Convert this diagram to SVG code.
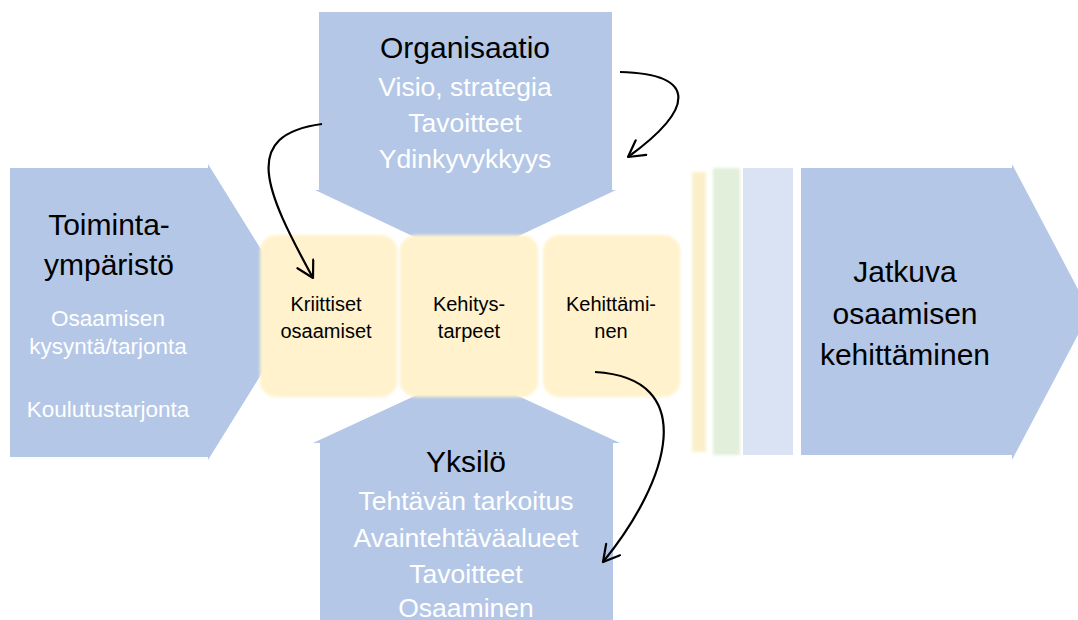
<svg xmlns="http://www.w3.org/2000/svg" width="1078" height="620" viewBox="0 0 1078 620">
<style>
.blue{fill:#b4c7e7}
.yel{fill:#fff2cc}
.h{font-family:"Liberation Sans",Arial,sans-serif;font-size:30px;fill:#000;text-anchor:middle}
.b{font-family:"Liberation Sans",Arial,sans-serif;font-size:26.5px;fill:#fff;text-anchor:middle}
.s{font-family:"Liberation Sans",Arial,sans-serif;font-size:22.5px;fill:#fff;text-anchor:middle}
.y{font-family:"Liberation Sans",Arial,sans-serif;font-size:20px;fill:#000;text-anchor:middle}
.con{fill:none;stroke:#000;stroke-width:2.2;marker-end:url(#ah)}
</style>
<defs>
<filter id="soft" x="-10%" y="-10%" width="120%" height="120%"><feGaussianBlur stdDeviation="1.6"/></filter>
<marker id="ah" viewBox="0 0 20 20" refX="18" refY="10" markerWidth="20" markerHeight="20" markerUnits="userSpaceOnUse" orient="auto">
<path d="M2,1 L18,10 L2,19" fill="none" stroke="#000" stroke-width="2.2" stroke-linejoin="round" stroke-linecap="round"/>
</marker>
</defs>
<rect width="1078" height="620" fill="#fff"/>
<g id="organisaatio">
<polygon class="blue" points="319,12 612,12 612,190 616,190 465.5,261 315,190 319,190"/>
<text class="h" x="465" y="58">Organisaatio</text>
<text class="b" x="465" y="96">Visio, strategia</text>
<text class="b" x="465" y="132">Tavoitteet</text>
<text class="b" x="465" y="168">Ydinkyvykkyys</text>
</g>
<g id="toimintaymparisto">
<polygon class="blue" points="10,168 208,168 208,164 300,312 208,460 208,457 10,457"/>
<text class="h" x="109" y="235">Toiminta-</text>
<text class="h" x="109" y="275">ympäristö</text>
<text class="s" x="108" y="326">Osaamisen</text>
<text class="s" x="108" y="354">kysyntä/tarjonta</text>
<text class="s" x="108" y="417">Koulutustarjonta</text>
</g>
<g id="yksilo">
<polygon class="blue" points="466.5,372 620,443 613,443 613,620 320,620 320,443 313,443"/>
<text class="h" x="466" y="472">Yksilö</text>
<text class="b" x="466" y="510">Tehtävän tarkoitus</text>
<text class="b" x="466" y="547">Avaintehtäväalueet</text>
<text class="b" x="466" y="583">Tavoitteet</text>
<text class="b" x="466" y="617">Osaaminen</text>
</g>
<g id="jatkuva">
<polygon class="blue" points="801,168 1012,168 1012,164 1090,312 1012,460 1012,455 801,455"/>
<text class="h" x="905" y="282">Jatkuva</text>
<text class="h" x="905" y="324">osaamisen</text>
<text class="h" x="905" y="365">kehittäminen</text>
</g>
<g id="bars">
<rect x="692" y="172" width="14" height="280" fill="#fbefcb" filter="url(#soft)"/>
<rect x="713" y="168" width="27" height="287" fill="#e2efda" filter="url(#soft)"/>
<rect x="743" y="168" width="50" height="287" fill="#dae3f3"/>
</g>
<g id="kriittiset">
<rect class="yel" x="260" y="235" width="137" height="162" rx="16" filter="url(#soft)"/>
<text class="y" x="326" y="311">Kriittiset</text>
<text class="y" x="326" y="338">osaamiset</text>
</g>
<g id="kehitystarpeet">
<rect class="yel" x="400" y="235" width="138" height="162" rx="16" filter="url(#soft)"/>
<text class="y" x="469" y="311">Kehitys-</text>
<text class="y" x="469" y="338">tarpeet</text>
</g>
<g id="kehittaminen">
<rect class="yel" x="543" y="235" width="137" height="162" rx="16" filter="url(#soft)"/>
<text class="y" x="611" y="311">Kehittämi-</text>
<text class="y" x="611" y="338">nen</text>
</g>
<g id="connectors">
<path class="con" d="M322,124 C240,135 265,190 313,278"/>
<path class="con" d="M620,72 C700,74 693,110 628,157"/>
<path class="con" d="M595,372 C700,378 670,480 603,562"/>
</g>
</svg>
